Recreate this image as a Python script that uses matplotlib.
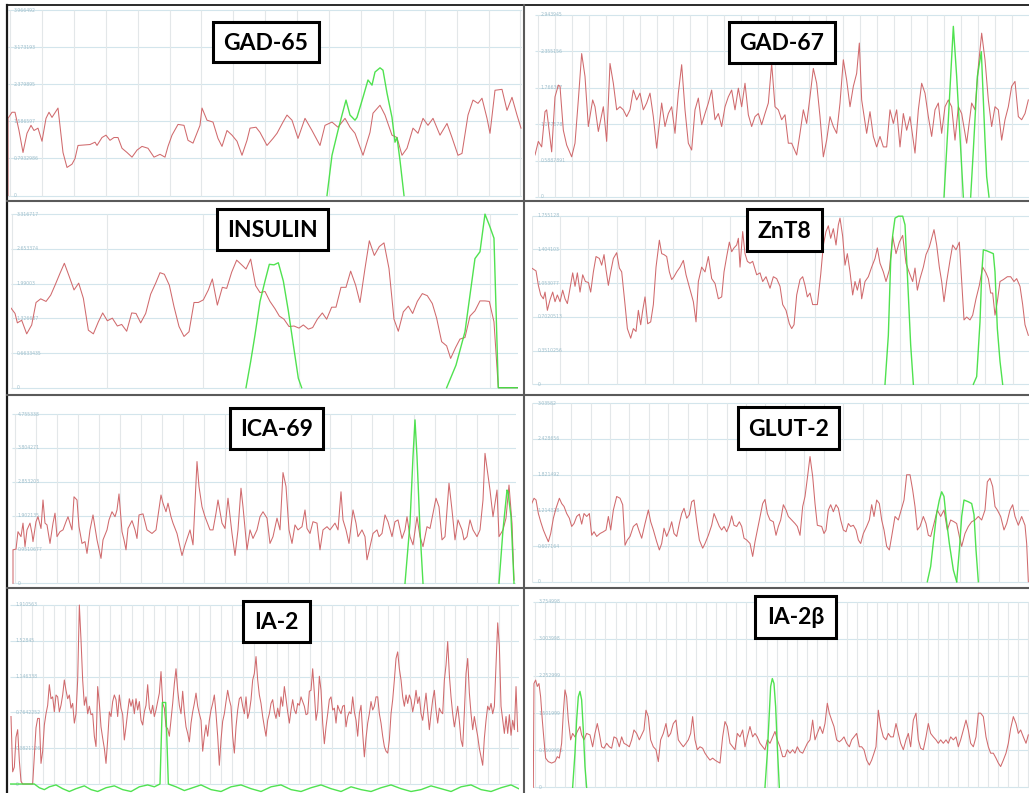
import numpy as np
import matplotlib
matplotlib.use("Agg")
import matplotlib.pyplot as plt
from matplotlib.patches import Rectangle

# ---- GAD-65 (x in sample units) ----
gad65_x = [8, 8, 12, 15, 19, 23, 27, 31, 34, 38, 42, 46, 49, 52, 58, 63, 67, 72, 75, 78, 90, 95, 97, 102, 106, 110,
           114, 118, 122, 127, 132, 137, 142, 148, 154, 160, 165, 168, 172, 178, 184, 188, 193, 200, 202, 207, 213,
           218, 222, 227, 232, 237, 242, 247, 250, 256, 260, 267, 273, 277, 283, 287, 292, 298, 305, 312, 320, 325,
           332, 338, 345, 350, 355, 363, 370, 373, 380, 385, 392, 397, 402, 407, 413, 418, 423, 428, 433, 440, 447,
           452, 458, 462, 468, 473, 478, 482, 487, 490, 495, 502, 507, 512, 517, 521]
gad65_y = [0, 1.65, 1.78, 1.78, 1.39, 0.92, 1.33, 1.50, 1.39, 1.44, 1.16, 1.65, 1.78, 1.67, 1.87, 0.92, 0.60, 0.67,
           0.79, 1.07, 1.09, 1.14, 1.07, 1.24, 1.29, 1.18, 1.24, 1.24, 1.01, 0.92, 0.82, 0.97, 1.05, 1.01, 0.82, 0.88,
           0.82, 1.05, 1.29, 1.52, 1.50, 1.18, 1.12, 1.50, 1.87, 1.61, 1.57, 1.22, 1.05, 1.39, 1.29, 1.16, 0.86, 1.18,
           1.44, 1.46, 1.35, 1.07, 1.22, 1.33, 1.57, 1.72, 1.61, 1.22, 1.65, 1.39, 1.07, 1.50, 1.57, 1.46, 1.65, 1.46,
           1.33, 0.86, 1.35, 1.76, 1.93, 1.72, 1.29, 1.24, 0.86, 1.01, 1.44, 1.33, 1.65, 1.50, 1.65, 1.29, 1.54, 1.24,
           0.86, 0.90, 1.72, 2.04, 1.97, 2.08, 1.65, 1.33, 2.25, 2.27, 1.82, 2.10, 1.72, 1.44]
gad65_gx = [327, 332, 338, 342, 346, 350, 355, 357, 363, 368, 372, 375, 380, 383, 387, 392, 395, 397, 400, 404]
gad65_gy = [0, 0.86, 1.39, 1.72, 2.04, 1.72, 1.61, 1.67, 2.10, 2.47, 2.36, 2.64, 2.73, 2.68, 2.19, 1.67, 1.14,
            1.24, 0.75, 0]
gad65_ticks = [0, 0.7932986, 1.586597, 2.379895, 3.173193, 3.966492]

# ---- GAD-67 ----
gad67_x = [45, 55, 65, 75, 80, 95, 105, 115, 120, 130, 140, 155, 165, 175, 185, 195, 205, 218, 225, 235, 250, 260,
           270, 280, 290, 300, 310, 320, 330, 340, 350, 360, 370, 380, 390, 400, 410, 425, 435, 445, 455, 465, 475,
           485, 495, 505, 515, 525, 535, 545, 555, 565, 575, 585, 595, 605, 615, 625, 635, 645, 655, 665, 675, 685,
           695, 705, 715, 725, 735, 745, 755, 765, 775, 785, 795, 805, 815, 830, 840, 850, 860, 870, 880, 890, 900,
           910, 920, 930, 940, 950, 960, 970, 980, 990, 1000, 1010, 1018, 1025, 1040, 1050, 1060, 1070, 1080, 1090,
           1100, 1110, 1120, 1130, 1140, 1150, 1160, 1170, 1185, 1195, 1205, 1215, 1225, 1235, 1245, 1255, 1265,
           1275, 1285, 1295, 1305, 1315, 1325, 1340, 1355, 1365, 1375, 1385, 1395, 1405, 1415, 1425, 1435, 1445,
           1455, 1465, 1475, 1485, 1495, 1505, 1515, 1525]
gad67_y = [0.68, 0.90, 0.81, 1.38, 1.41, 0.73, 1.62, 1.81, 1.79, 1.08, 0.84, 0.65, 0.87, 1.57, 2.32, 1.95, 1.14,
           1.57, 1.46, 1.06, 1.46, 0.90, 2.16, 1.84, 1.41, 1.46, 1.41, 1.30, 1.41, 1.73, 1.57, 1.68, 1.41, 1.52,
           1.68, 1.30, 0.79, 1.52, 1.14, 1.35, 1.46, 1.03, 1.68, 2.14, 1.41, 0.87, 0.76, 1.41, 1.60, 1.17, 1.35,
           1.52, 1.73, 1.25, 1.35, 1.14, 1.46, 1.62, 1.73, 1.41, 1.76, 1.46, 1.84, 1.33, 1.14, 1.30, 1.35, 1.17,
           1.35, 1.52, 2.16, 1.46, 1.41, 1.25, 1.33, 0.87, 0.87, 0.68, 1.03, 1.41, 1.19, 1.62, 2.08, 1.84, 1.30,
           0.65, 0.92, 1.30, 1.14, 1.03, 1.52, 2.22, 1.89, 1.46, 1.79, 2.00, 2.49, 1.57, 1.03, 1.38, 0.98, 0.81,
           0.98, 0.81, 0.81, 1.41, 1.19, 1.41, 0.81, 1.35, 1.08, 1.30, 0.71, 1.41, 1.84, 1.68, 1.30, 0.98, 1.41,
           1.52, 1.03, 1.46, 1.57, 1.46, 0.92, 1.46, 1.35, 0.87, 1.52, 1.41, 2.11, 2.65, 2.22, 1.57, 1.14, 1.46,
           1.41, 0.92, 1.25, 1.46, 1.79, 1.87, 1.30, 1.25, 1.35, 1.57]
gad67_g1x = [1272, 1285, 1300, 1310, 1320, 1330]
gad67_g1y = [0, 1.25, 2.76, 1.95, 0.98, 0]
gad67_g2x = [1352, 1360, 1372, 1384, 1395, 1400, 1407]
gad67_g2y = [0, 0.76, 1.95, 2.35, 0.92, 0.33, 0]
gad67_ticks = [0, 0.5887891, 1.177578, 1.766367, 2.355156, 2.943945]

# ---- INSULIN ----
ins_x = [32, 45, 52, 65, 80, 95, 108, 122, 138, 152, 165, 180, 193, 208, 222, 236, 250, 265, 280, 295, 308, 322,
         337, 352, 365, 380, 395, 408, 422, 437, 452, 467, 480, 493, 508, 522, 537, 552, 567, 582, 595, 610, 625,
         637, 652, 667, 680, 695, 710, 725, 738, 752, 767, 780, 795, 810, 825, 838, 852, 867, 882, 897, 910, 925,
         938, 952, 967, 980, 995, 1008, 1023, 1038, 1052, 1067, 1080, 1095, 1108, 1123, 1138, 1152, 1167, 1182,
         1195, 1210, 1225, 1238, 1252, 1267, 1282, 1297, 1310, 1325, 1340, 1352, 1367, 1380, 1395, 1410, 1425,
         1440, 1455, 1468, 1482, 1495, 1555]
ins_y = [1.53, 1.42, 1.24, 1.29, 1.03, 1.20, 1.63, 1.70, 1.65, 1.77, 1.96, 2.19, 2.38, 2.12, 1.87, 2.00, 1.71,
         1.10, 1.03, 1.26, 1.43, 1.28, 1.33, 1.18, 1.21, 1.08, 1.43, 1.42, 1.24, 1.42, 1.79, 2.00, 2.20, 2.17,
         1.96, 1.55, 1.17, 0.98, 1.07, 1.63, 1.63, 1.68, 1.87, 2.08, 1.58, 1.92, 1.90, 2.21, 2.44, 2.35, 2.27,
         2.46, 1.95, 1.82, 1.84, 1.65, 1.51, 1.37, 1.31, 1.17, 1.18, 1.14, 1.20, 1.12, 1.15, 1.31, 1.43, 1.31,
         1.54, 1.54, 1.92, 1.92, 2.23, 1.96, 1.63, 2.28, 2.81, 2.53, 2.70, 2.77, 2.28, 1.31, 1.08, 1.45, 1.56,
         1.42, 1.65, 1.80, 1.76, 1.61, 1.33, 0.88, 0.80, 0.56, 0.77, 0.93, 0.96, 1.37, 1.47, 1.66, 1.66, 1.65,
         1.26, 0, 0]
ins_g1x = [738, 752, 765, 780, 795, 808, 822, 835, 850, 865, 880, 895, 905]
ins_g1y = [0, 0.50, 1.01, 1.65, 2.04, 2.36, 2.35, 2.39, 2.04, 1.47, 0.82, 0.18, 0]
ins_g2x = [1340, 1368, 1395, 1425, 1440, 1455, 1468, 1482, 1495, 1555]
ins_g2y = [0, 0.43, 1.07, 2.47, 2.60, 3.32, 3.11, 2.86, 0, 0]
ins_ticks = [0, 0.6633435, 1.326687, 1.99003, 2.653374, 3.316717]

# ---- ZnT8 ----
znt8_x = [35, 48, 55, 62, 70, 75, 82, 90, 98, 105, 112, 120, 128, 135, 142, 150, 158, 165, 172, 180, 188, 196,
          205, 212, 220, 228, 238, 245, 252, 258, 265, 272, 280, 290, 298, 305, 315, 322, 332, 340, 348, 355, 362,
          368, 375, 383, 392, 400, 408, 418, 425, 432, 440, 448, 455, 462, 470, 480, 490, 498, 505, 512, 520, 528,
          535, 545, 555, 565, 575, 585, 595, 605, 612, 620, 628, 635, 642, 650, 655, 660, 668, 675, 682, 690, 698,
          710, 720, 728, 738, 750, 760, 770, 780, 788, 798, 808, 815, 822, 830, 840, 848, 855, 862, 870, 878, 885,
          892, 902, 910, 918, 925, 932, 940, 948, 955, 960, 968, 975, 982, 990, 998, 1005, 1012, 1020, 1025, 1035,
          1045, 1055, 1065, 1072, 1080, 1090, 1098, 1108, 1118, 1128, 1138, 1148, 1158, 1168, 1178, 1185, 1192,
          1200, 1210, 1218, 1228, 1235, 1242, 1250, 1258, 1265, 1272, 1280, 1290, 1298, 1308, 1318, 1325, 1332,
          1340, 1350, 1358, 1368, 1378, 1388, 1398, 1405, 1412, 1418, 1425, 1432, 1440, 1450, 1462, 1472, 1482,
          1490, 1500, 1508, 1515, 1525]
znt8_y = [1.21, 1.18, 1.03, 0.93, 0.89, 0.96, 0.77, 0.88, 0.96, 0.86, 0.93, 0.86, 0.98, 0.89, 0.84, 1.00, 1.16,
          1.02, 1.16, 0.96, 1.14, 1.07, 1.06, 0.96, 1.17, 1.33, 1.31, 1.24, 1.35, 1.19, 1.03, 1.17, 1.31, 1.37,
          1.21, 1.17, 0.83, 0.58, 0.48, 0.58, 0.55, 0.77, 0.62, 0.77, 0.91, 0.63, 0.65, 0.83, 1.22, 1.50, 1.36,
          1.35, 1.33, 1.17, 1.09, 1.12, 1.17, 1.22, 1.29, 1.14, 1.05, 0.96, 0.86, 0.65, 1.07, 1.22, 1.17, 1.33,
          1.10, 1.05, 0.89, 0.91, 1.17, 1.33, 1.48, 1.38, 1.42, 1.45, 1.52, 1.22, 1.59, 1.36, 1.28, 1.26, 1.28,
          1.14, 1.16, 1.07, 1.12, 1.00, 1.12, 1.10, 1.02, 0.83, 0.77, 0.63, 0.58, 0.62, 0.93, 1.09, 1.12, 1.03,
          0.91, 0.95, 0.83, 0.83, 0.83, 1.14, 1.45, 1.59, 1.65, 1.52, 1.62, 1.45, 1.66, 1.73, 1.54, 1.24, 1.36,
          1.17, 0.93, 1.07, 0.98, 1.10, 0.89, 1.07, 1.12, 1.22, 1.31, 1.42, 1.26, 1.17, 1.07, 1.19, 1.54, 1.36,
          1.48, 1.55, 1.26, 1.16, 1.07, 1.21, 0.98, 1.10, 1.22, 1.35, 1.43, 1.52, 1.61, 1.45, 1.22, 1.07, 0.86,
          1.07, 1.29, 1.45, 1.40, 1.48, 1.07, 0.67, 0.70, 0.67, 0.72, 0.89, 1.03, 1.22, 1.16, 1.10, 0.95, 0.95,
          0.72, 0.86, 1.07, 1.09, 1.12, 1.12, 1.07, 1.10, 1.02, 0.83, 0.62, 0.51]
znt8_g1x = [1095, 1105, 1112, 1118, 1125, 1135, 1148, 1155, 1165, 1172, 1180]
znt8_g1y = [0, 0.51, 1.28, 1.55, 1.73, 1.75, 1.75, 1.66, 0.93, 0.41, 0]
znt8_g2x = [1360, 1370, 1380, 1385, 1390, 1400, 1420, 1425, 1432, 1440, 1448]
znt8_g2y = [0, 0.08, 0.65, 1.14, 1.40, 1.39, 1.36, 1.17, 0.58, 0.24, 0]
znt8_ticks = [0, 0.3510256, 0.7020513, 1.053077, 1.404103, 1.755128]

# ---- ICA-69 ----
ica_x = [13, 13, 16, 18, 21, 23, 25, 27, 30, 32, 33, 36, 38, 41, 43, 45, 47, 50, 53, 55, 57, 60, 63, 66, 68, 72,
         74, 77, 79, 82, 85, 87, 90, 93, 97, 101, 103, 107, 109, 112, 115, 117, 119, 122, 124, 126, 128, 132, 135,
         137, 139, 143, 147, 152, 156, 161, 163, 166, 168, 171, 173, 177, 182, 185, 190, 193, 197, 199, 202, 205,
         210, 213, 216, 218, 222, 225, 228, 232, 235, 238, 241, 243, 247, 250, 253, 257, 260, 263, 267, 270, 273,
         277, 280, 283, 286, 289, 292, 295, 298, 302, 305, 307, 310, 313, 317, 320, 323, 327, 330, 335, 338, 341,
         343, 346, 349, 353, 356, 358, 362, 365, 367, 370, 373, 377, 379, 382, 385, 388, 392, 395, 398, 402, 405,
         407, 410, 413, 417, 420, 423, 427, 430, 433, 436, 439, 442, 445, 449, 452, 455, 458, 462, 464, 467, 470,
         473, 477, 480, 483, 485, 487, 490, 493, 497, 499, 503, 506, 509, 512, 514]
ica_y = [0, 0.94, 0.96, 1.45, 1.31, 1.69, 1.03, 1.50, 1.69, 1.40, 1.17, 1.73, 1.87, 1.54, 2.34, 1.69, 1.64, 1.12,
         1.69, 1.97, 1.31, 1.45, 1.50, 1.73, 1.87, 1.50, 2.43, 2.34, 1.59, 1.12, 1.17, 0.84, 1.50, 1.92, 1.22,
         0.70, 1.22, 1.50, 1.78, 2.01, 1.87, 2.06, 2.51, 1.45, 1.22, 0.94, 1.54, 1.76, 1.50, 1.26, 1.92, 1.95,
         1.50, 1.40, 1.50, 2.48, 2.25, 2.01, 2.25, 1.87, 1.69, 1.40, 0.78, 1.08, 1.50, 1.08, 3.42, 2.72, 2.15,
         1.87, 1.50, 1.50, 1.97, 2.34, 1.69, 1.54, 2.39, 1.40, 0.78, 1.50, 2.67, 2.15, 0.94, 1.50, 1.26, 1.50,
         1.87, 2.01, 1.83, 1.12, 1.31, 1.83, 1.50, 3.11, 2.72, 1.50, 1.12, 1.64, 1.50, 1.59, 2.06, 1.54, 1.40,
         1.73, 1.69, 0.94, 1.50, 1.59, 1.50, 1.69, 1.50, 2.57, 1.78, 1.50, 1.12, 2.06, 1.69, 1.31, 1.50, 1.31,
         0.66, 1.03, 1.40, 1.50, 1.31, 1.40, 1.92, 1.73, 1.31, 1.73, 1.78, 1.26, 1.50, 1.87, 1.31, 1.08, 1.87,
         1.31, 1.03, 1.59, 1.54, 1.97, 2.39, 2.15, 1.22, 1.31, 2.81, 2.06, 1.22, 1.78, 1.50, 1.22, 1.31, 1.78,
         1.50, 1.31, 1.50, 2.34, 3.65, 3.23, 2.62, 1.87, 2.62, 1.31, 1.50, 1.83, 2.76, 1.69, 0.09]
ica_g1x = [405, 410, 413, 415, 417, 420, 423]
ica_g1y = [0, 1.69, 3.56, 4.59, 3.56, 1.50, 0]
ica_g2x = [499, 503, 507, 508, 511, 514]
ica_g2y = [0, 1.50, 2.62, 2.57, 1.87, 0]
ica_ticks = [0, 0.9510677, 1.902135, 2.853203, 3.804271, 4.755338]

# ---- GLUT-2 ----
glut_x = [35, 42, 48, 55, 62, 70, 78, 85, 92, 100, 108, 118, 125, 132, 140, 148, 155, 162, 170, 178, 185, 192,
          200, 208, 215, 222, 230, 240, 250, 258, 265, 272, 280, 290, 300, 308, 315, 322, 330, 340, 350, 358, 365,
          375, 385, 392, 400, 410, 418, 425, 432, 440, 448, 455, 462, 470, 478, 485, 492, 500, 508, 515, 522, 530,
          538, 548, 555, 565, 575, 582, 590, 598, 605, 612, 620, 628, 635, 642, 650, 658, 665, 672, 680, 690, 698,
          705, 712, 720, 728, 735, 742, 750, 760, 768, 775, 782, 790, 798, 805, 815, 825, 832, 840, 848, 855, 862,
          870, 878, 885, 892, 905, 912, 918, 925, 932, 940, 948, 955, 962, 970, 978, 985, 992, 1000, 1008, 1015,
          1022, 1030, 1040, 1048, 1055, 1062, 1070, 1078, 1085, 1092, 1100, 1108, 1115, 1125, 1135, 1145, 1152,
          1160, 1170, 1178, 1185, 1192, 1200, 1210, 1218, 1225, 1232, 1242, 1252, 1262, 1272, 1282, 1292, 1302,
          1310, 1318, 1325, 1335, 1345, 1355, 1365, 1375, 1385, 1395, 1402, 1410, 1418, 1425, 1432, 1442, 1452,
          1460, 1470, 1478, 1485, 1495, 1505, 1515, 1520, 1525]
glut_y = [1.33, 1.42, 1.39, 1.16, 1.02, 0.88, 0.77, 0.68, 0.82, 1.08, 1.25, 1.42, 1.33, 1.28, 1.16, 1.08, 0.94,
          0.99, 1.11, 1.15, 0.98, 1.16, 1.11, 1.16, 0.79, 0.85, 0.77, 0.82, 0.85, 0.88, 1.11, 0.88, 1.22, 1.45,
          1.42, 1.31, 0.62, 0.71, 0.77, 0.94, 0.99, 0.85, 0.74, 0.99, 1.22, 1.02, 0.88, 0.68, 0.54, 0.65, 0.91,
          0.77, 0.88, 1.02, 0.82, 0.77, 0.99, 1.16, 1.25, 1.08, 1.14, 1.36, 1.39, 1.02, 0.71, 0.57, 0.65, 0.79,
          0.96, 1.16, 1.05, 0.94, 0.88, 0.94, 0.85, 0.96, 1.12, 0.96, 0.94, 1.02, 0.94, 0.74, 0.71, 0.65, 0.43,
          0.68, 0.88, 1.11, 1.33, 1.40, 1.16, 1.05, 1.02, 0.79, 0.94, 1.05, 1.31, 1.22, 1.11, 1.05, 0.99, 0.94,
          0.79, 1.28, 1.45, 1.76, 2.13, 1.79, 1.33, 0.96, 0.94, 0.82, 0.88, 1.22, 1.31, 1.19, 1.31, 1.25, 1.05,
          0.88, 0.85, 0.99, 0.94, 0.96, 0.88, 0.71, 0.65, 0.82, 0.94, 1.05, 1.31, 1.11, 1.39, 1.33, 1.05, 0.88,
          0.60, 0.54, 0.77, 1.11, 1.05, 1.25, 1.39, 1.82, 1.82, 1.56, 1.28, 0.88, 0.94, 1.11, 0.99, 0.79, 0.77,
          0.99, 1.22, 1.11, 1.22, 0.88, 1.05, 1.02, 0.99, 0.77, 0.60, 0.82, 0.94, 1.02, 1.05, 1.11, 1.05, 1.22,
          1.70, 1.76, 1.62, 1.28, 1.22, 1.11, 0.88, 0.99, 1.22, 1.31, 1.11, 0.96, 1.11, 0.96, 0.65, 0]
glut_g1x = [1222, 1232, 1242, 1250, 1258, 1265, 1272, 1278, 1288, 1300, 1310]
glut_g1y = [0, 0.26, 0.77, 1.16, 1.39, 1.53, 1.45, 1.11, 0.65, 0.20, 0]
glut_g2x = [1310, 1318, 1325, 1332, 1345, 1355, 1362, 1368, 1375]
glut_g2y = [0, 0.54, 1.11, 1.39, 1.36, 1.33, 1.14, 0.54, 0]
glut_ticks = [0, 0.607164, 1.214328, 1.821492, 2.428656, 3.03582]

# ---- IA-2 (evenly spaced samples) ----
ia2_y = [0.72, 0.13, 0.18, 0.50, 0.58, 0.25, 0.03, 0, 0, 0, 0, 0, 0, 0, 0.30, 0.60, 0.70, 0.70, 0.22,
         0.35, 0.63, 0.75, 0.84, 1.06, 0.91, 0.93, 0.77, 0.95, 0.93, 0.77, 0.84, 0.95, 1.11, 1.00, 0.91, 0.95,
         0.81, 0.86, 0.65, 0.75, 1.11, 1.91, 1.54, 1.11, 0.84, 0.93, 0.75, 0.83, 0.74, 0.75, 0.51, 0.40, 1.04,
         0.86, 0.61, 0.49, 0.38, 0.22, 0.47, 0.77, 0.72, 0.88, 0.95, 0.90, 0.72, 0.95, 0.81, 0.74, 0.47, 0.61,
         0.77, 0.91, 0.83, 0.90, 0.75, 0.91, 0.79, 0.88, 0.68, 0.63, 0.77, 0.84, 1.06, 0.81, 0.75, 0.84, 0.72,
         0.79, 0.88, 0.97, 1.20, 0.86, 0.81, 0.61, 0.59, 0.51, 0.68, 0.86, 1.07, 1.23, 1.00, 0.84, 0.75, 0.99,
         0.77, 0.61, 0.54, 0.45, 0.65, 0.77, 0.86, 0.97, 0.83, 0.75, 0.68, 0.35, 0.51, 0.63, 0.51, 0.68, 0.79,
         0.86, 0.95, 0.75, 0.51, 0.20, 0.47, 0.67, 0.75, 0.88, 1.00, 0.90, 0.83, 0.51, 0.33, 0.61, 0.79, 0.91,
         0.93, 0.83, 0.75, 0.93, 0.70, 0.77, 0.90, 1.11, 1.18, 1.36, 1.11, 0.95, 0.86, 0.72, 0.61, 0.51, 0.68,
         0.75, 0.86, 0.90, 0.77, 0.70, 0.81, 0.72, 0.93, 0.83, 1.04, 0.91, 0.77, 0.65, 0.79, 0.90, 0.79, 0.75,
         0.86, 0.84, 0.93, 0.88, 0.83, 0.74, 0.75, 0.99, 1.00, 1.23, 0.97, 0.68, 0.79, 1.15, 1.00, 0.65, 0.43,
         0.61, 0.75, 0.90, 0.93, 0.79, 0.81, 0.65, 0.84, 0.79, 0.75, 0.83, 0.84, 0.61, 0.72, 0.77, 0.75, 0.93,
         0.77, 0.68, 0.51, 0.75, 0.84, 0.54, 0.29, 0.49, 0.65, 0.75, 0.88, 0.79, 0.83, 0.93, 0.93, 0.75, 0.65,
         0.51, 0.40, 0.35, 0.33, 0.47, 0.75, 0.90, 1.11, 1.34, 1.41, 1.23, 1.11, 0.93, 0.83, 0.95, 0.86, 0.95,
         0.90, 0.77, 0.86, 1.00, 0.86, 0.93, 0.75, 0.68, 0.83, 0.97, 0.77, 0.58, 0.75, 0.90, 1.00, 0.79, 0.65,
         0.81, 0.77, 0.75, 1.11, 1.27, 1.52, 1.16, 0.93, 0.75, 0.61, 0.72, 0.83, 0.67, 0.47, 0.40, 0.77, 1.18,
         1.34, 0.97, 0.75, 0.58, 0.72, 0.61, 0.51, 0.38, 0.29, 0.20, 0.49, 0.68, 0.83, 0.79, 0.86, 0.75, 0.83,
         1.29, 1.72, 1.47, 0.83, 0.68, 0.54, 0.72, 0.54, 0.74, 0.52, 0.68, 0.58, 1.04, 0.56]
ia2_gx = [-0.6, 7, 14, 17, 20, 23, 27, 31, 35, 39, 44, 48, 52, 57, 62, 67, 72, 77, 82, 86, 89.4, 90.8, 92.8, 94.4,
          99, 104, 109, 114, 120, 126, 132, 138, 144, 150, 156, 162, 168, 174, 180, 186, 192, 198, 204, 210, 216,
          222, 228, 234, 240, 246, 252, 258, 264, 270, 276, 282, 288, 294, 300, 304.6]
ia2_gy = [0, 0, 0, -0.04, -0.06, -0.03, -0.01, -0.05, -0.08, -0.05, -0.02, -0.06, -0.08, -0.04, -0.02, -0.06,
          -0.08, -0.03, -0.01, -0.03, 0, 0.87, 0.87, 0, -0.03, -0.07, -0.04, -0.01, -0.06, -0.08, -0.03, -0.01,
          -0.05, -0.08, -0.03, -0.01, -0.06, -0.08, -0.04, -0.01, -0.05, -0.08, -0.03, -0.06, -0.08, -0.04, -0.01,
          -0.05, -0.08, -0.06, -0.02, -0.05, -0.08, -0.03, -0.01, -0.06, -0.08, -0.04, -0.01, -0.05]
ia2_ticks = [0, 0.3821126, 0.7642252, 1.146338, 1.52845, 1.910563]

# ---- IA-2beta ----
ia2b_x = [40, 42, 47, 52, 57, 62, 67, 72, 77, 85, 95, 105, 112, 118, 125, 130, 135, 140, 145, 152, 158, 165, 172,
          180, 185, 192, 200, 210, 218, 225, 232, 238, 245, 252, 260, 268, 275, 282, 290, 298, 305, 312, 320, 328,
          335, 342, 350, 358, 365, 372, 378, 385, 392, 400, 408, 415, 422, 430, 438, 445, 452, 460, 468, 475, 482,
          490, 498, 505, 512, 518, 525, 532, 540, 548, 555, 562, 570, 578, 585, 592, 600, 608, 615, 622, 630, 638,
          645, 652, 660, 668, 675, 682, 690, 698, 705, 712, 720, 728, 735, 742, 750, 758, 765, 772, 780, 788, 795,
          802, 810, 818, 825, 832, 840, 848, 855, 862, 870, 878, 885, 892, 900, 908, 915, 922, 928, 935, 942, 950,
          958, 965, 972, 980, 988, 995, 1002, 1010, 1018, 1025, 1032, 1040, 1048, 1055, 1062, 1068, 1075, 1082,
          1090, 1098, 1105, 1112, 1120, 1128, 1135, 1142, 1150, 1158, 1165, 1172, 1180, 1188, 1195, 1202, 1210,
          1218, 1225, 1232, 1240, 1248, 1255, 1262, 1270, 1278, 1285, 1292, 1300, 1308, 1315, 1322, 1330, 1338,
          1345, 1352, 1360, 1368, 1375, 1382, 1390, 1398, 1405, 1412, 1420, 1428, 1435, 1442, 1450, 1458, 1465,
          1472, 1480, 1488, 1495, 1502, 1510, 1518, 1525]
ia2b_y = [0, 2.10, 2.17, 2.04, 2.10, 1.83, 1.36, 0.96, 0.59, 0.52, 0.49, 0.52, 0.62, 0.59, 0.89, 1.50, 1.97, 1.83,
          1.36, 0.96, 1.09, 1.02, 1.13, 1.23, 1.06, 0.96, 1.09, 1.06, 0.82, 1.09, 1.29, 1.09, 0.82, 0.79, 0.89,
          0.82, 0.79, 1.02, 0.99, 0.82, 1.02, 0.89, 0.86, 0.82, 0.96, 1.16, 1.09, 0.96, 1.06, 1.16, 1.56, 1.43,
          0.96, 0.82, 0.76, 0.52, 0.96, 1.09, 1.29, 1.02, 1.09, 1.29, 1.36, 0.96, 0.89, 0.82, 0.89, 0.96, 1.09,
          1.43, 0.96, 0.76, 0.82, 0.79, 0.69, 0.62, 0.55, 0.59, 0.55, 0.52, 0.49, 1.02, 1.33, 1.23, 0.89, 0.82,
          0.76, 1.09, 1.02, 1.16, 0.82, 1.02, 1.23, 1.02, 1.09, 1.02, 0.89, 0.82, 0.76, 0.96, 0.89, 1.02, 1.13,
          0.96, 0.82, 0.62, 0.62, 0.76, 0.69, 0.76, 0.69, 0.82, 0.72, 0.69, 0.79, 0.89, 0.96, 1.36, 0.96, 1.09,
          1.23, 1.09, 1.29, 1.70, 1.50, 1.36, 1.23, 0.96, 0.92, 0.96, 1.02, 0.89, 0.82, 0.96, 1.02, 1.09, 0.82,
          0.82, 0.76, 0.55, 0.45, 0.55, 0.69, 0.82, 1.56, 1.23, 1.02, 0.96, 1.09, 1.02, 1.02, 1.29, 1.09, 0.89,
          0.76, 0.96, 1.09, 0.82, 1.36, 1.50, 0.96, 0.79, 0.76, 1.02, 1.29, 1.09, 1.02, 0.96, 0.89, 0.96, 0.89,
          0.96, 0.89, 1.02, 0.96, 1.02, 0.82, 0.96, 1.16, 1.36, 1.16, 0.89, 0.82, 1.02, 1.50, 1.50, 1.43, 1.02,
          0.82, 0.69, 0.69, 0.59, 0.49, 0.42, 0.55, 0.69, 0.89, 1.19, 1.43, 1.29, 1.09, 1.16, 1.02, 0.89, 1.06]
ia2b_g1x = [158, 165, 170, 175, 180, 185, 190, 195, 200]
ia2b_g1y = [0, 0.69, 1.36, 1.83, 1.94, 1.77, 1.16, 0.42, 0]
ia2b_g2x = [735, 742, 748, 752, 757, 762, 767, 772, 778]
ia2b_g2y = [0, 0.69, 1.50, 2.04, 2.20, 2.10, 1.63, 0.82, 0]
ia2b_ticks = [0, 0.7509996, 1.501999, 2.252999, 3.003998, 3.754998]

W, H = 1029, 793
RED = "#d06a6d"
GREEN = "#3ddf3d"
HGRID = "#d3e5ec"
VGRID = "#e3e7e9"
TICK = "#9fbfcc"

fig = plt.figure(figsize=(W / 100, H / 100), dpi=100)
fig.patch.set_facecolor("white")


def draw_panel(l, r, t, b, xlim, ticks, grid_start, grid_step, red_x, red_y, greens, bottom_px=None):
    # t/b are the pixel rows of the top gridline and the zero line
    top = ticks[-1]
    per_px = top / (b - t)
    pad = 2
    bot = bottom_px if bottom_px is not None else b + pad
    ax = fig.add_axes([l / W, 1 - bot / H, (r - l) / W, (bot - (t - pad)) / H])
    ax.set_xlim(xlim)
    ax.set_ylim(-(bot - b) * per_px, top + pad * per_px)
    ax.axis("off")
    ax.hlines(ticks, xlim[0], xlim[1], colors=HGRID, lw=0.8, zorder=0)
    ax.vlines(np.arange(grid_start, xlim[1], grid_step), 0, top, colors=VGRID, lw=0.8, zorder=0)
    for v in ticks:
        lbl = "0" if v == 0 else format(v, ".7g")
        ax.annotate(lbl, xy=(0, v), xycoords=("axes fraction", "data"), xytext=(4, 0),
                    textcoords="offset points", fontsize=3.3, color=TICK, va="center", ha="left", zorder=1)
    ax.plot(red_x, red_y, color=RED, lw=0.75, zorder=2)
    for gx, gy in greens:
        ax.plot(gx, gy, color=GREEN, lw=1.0, alpha=0.9, zorder=3)
    return ax


draw_panel(8, 522, 10, 195.5, (8, 522), gad65_ticks, 10, 31.9, gad65_x, gad65_y, [(gad65_gx, gad65_gy)])
draw_panel(535, 1029, 15, 197, (45, 1527), gad67_ticks, 54, 50.8, gad67_x, gad67_y,
           [(gad67_g1x, gad67_g1y), (gad67_g2x, gad67_g2y)])
draw_panel(10.7, 518.3, 214.3, 387.7, (32, 1555), ins_ticks, 35, 287, ins_x, ins_y,
           [(ins_g1x, ins_g1y), (ins_g2x, ins_g2y)])
draw_panel(531.7, 1029, 215.7, 384.3, (35, 1527), znt8_ticks, 35, 85, znt8_x, znt8_y,
           [(znt8_g1x, znt8_g1y), (znt8_g2x, znt8_g2y)])
draw_panel(12, 516, 414, 583.3, (12, 516), ica_ticks, 15, 21, ica_x, ica_y,
           [(ica_g1x, ica_g1y), (ica_g2x, ica_g2y)])
draw_panel(531.7, 1029, 403.3, 581.7, (35, 1527), glut_ticks, 36.7, 58.3, glut_x, glut_y,
           [(glut_g1x, glut_g1y), (glut_g2x, glut_g2y)])
draw_panel(10, 518.7, 605, 784, (-0.6, 304.6), ia2_ticks, 5.8, 6.68, np.arange(len(ia2_y)), ia2_y,
           [(ia2_gx, ia2_gy)], bottom_px=793)
draw_panel(533.3, 1029, 601.7, 787.3, (40, 1527), ia2b_ticks, 45, 30.2, ia2b_x, ia2b_y,
           [(ia2b_g1x, ia2b_g1y), (ia2b_g2x, ia2b_g2y)])

# overlay in pixel coordinates: panel borders and title boxes
ov = fig.add_axes([0, 0, 1, 1], zorder=10)
ov.set_xlim(0, W)
ov.set_ylim(H, 0)
ov.axis("off")
ov.patch.set_alpha(0)

ov.plot([7, W], [5, 5], color="#1a1a1a", lw=1.3)
ov.plot([7, 7], [5, H], color="#1a1a1a", lw=1.6)
ov.plot([523.5, 523.5], [5, H], color="#5a5a5a", lw=1.5)
for yy in (201, 395, 588):
    ov.plot([7, W], [yy, yy], color="#5a5a5a", lw=1.5)

titles = ["GAD-65", "GAD-67", "INSULIN", "ZnT8", "ICA-69", "GLUT-2", "IA-2", "IA-2\u03b2"]
boxes = [(213, 22, 319, 62), (729, 22, 835, 63), (217, 209, 328, 250), (747, 209, 822, 251),
         (230, 408, 323, 449), (738, 407, 839, 449), (243, 601, 310, 642), (755, 596, 836, 638)]
for name, (x0, y0, x1, y1) in zip(titles, boxes):
    ov.add_patch(Rectangle((x0, y0), x1 - x0, y1 - y0, facecolor="white", edgecolor="black", lw=2.2))
    ov.text((x0 + x1) / 2, (y0 + y1) / 2 + 1, name, ha="center", va="center", fontsize=16.5,
            fontweight="bold", family=["Lato", "DejaVu Sans"], color="black")

fig.savefig("out.png", dpi=100)
